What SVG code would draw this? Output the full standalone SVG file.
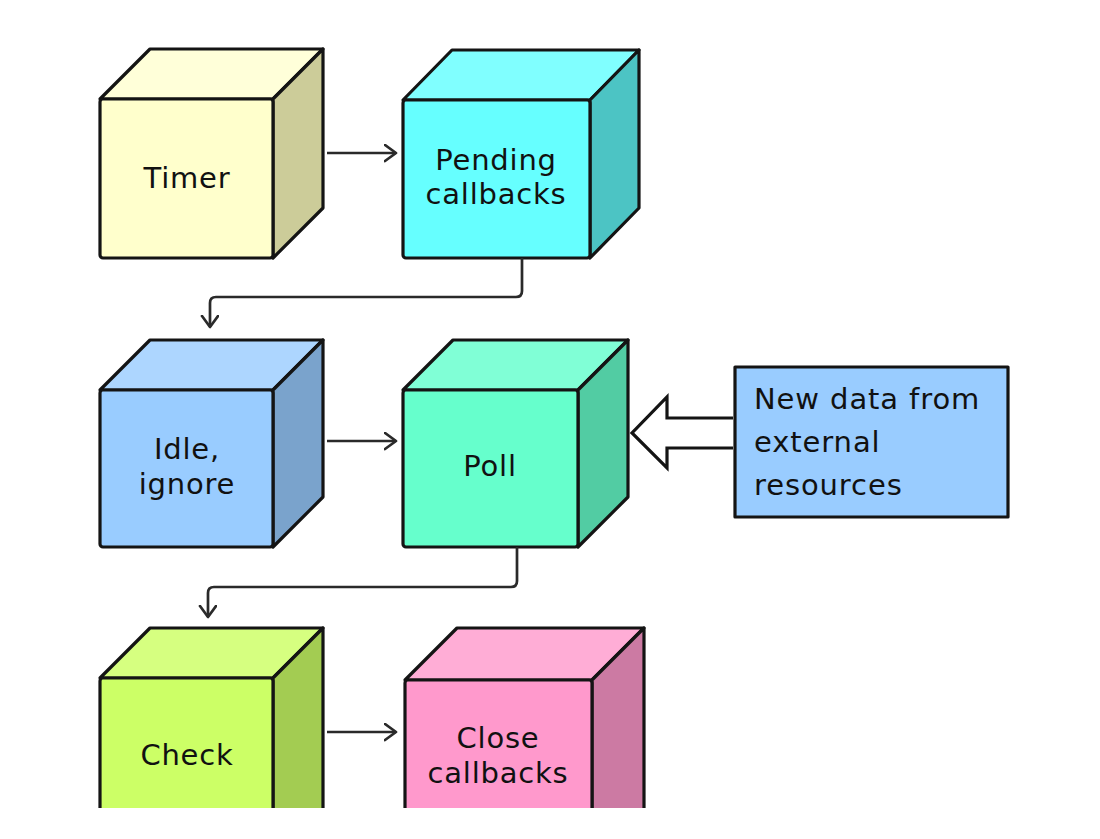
<svg xmlns="http://www.w3.org/2000/svg" width="1100" height="839" viewBox="0 0 1100 839">
<defs>
<style>
.e{stroke:#141414;stroke-width:3.2;stroke-linejoin:round}
.t{font-family:"DejaVu Sans","Liberation Sans",sans-serif;font-size:29px;fill:#111;text-anchor:middle;letter-spacing:0.8px}
.tl{font-family:"DejaVu Sans","Liberation Sans",sans-serif;font-size:29px;fill:#111;letter-spacing:0.9px}
.c{fill:none;stroke:#2a2a2a;stroke-width:2.7;stroke-linejoin:round}
</style>
<marker id="ah" markerUnits="userSpaceOnUse" markerWidth="16" markerHeight="20" refX="12" refY="9" orient="auto">
<path d="M1,1 L12,9 L1,17" fill="none" stroke="#2a2a2a" stroke-width="2.7" stroke-linecap="round" stroke-linejoin="round"/>
</marker>
<clipPath id="clip"><rect x="0" y="0" width="1100" height="808"/></clipPath>
</defs>
<rect width="1100" height="839" fill="#fff"/>

<g id="timer">
<path class="e" fill="#FFFFD9" d="M100,99 L150,49 L323,49 L273,99 Z"/>
<path class="e" fill="#CCCC99" d="M273,99 L323,49 L323,208 L273,258 Z"/>
<rect class="e" fill="#FFFFCC" x="100" y="99" width="173" height="159" rx="3"/>
<text class="t" x="187" y="188">Timer</text>
</g>

<g id="pending">
<path class="e" fill="#80FFFF" d="M403,100 L452,50 L639,50 L590,100 Z"/>
<path class="e" fill="#4CC4C4" d="M590,100 L639,50 L639,208 L590,258 Z"/>
<rect class="e" fill="#66FFFF" x="403" y="100" width="187" height="158" rx="3"/>
<text class="t" x="496" y="170">Pending</text>
<text class="t" x="496" y="204">callbacks</text>
</g>

<g id="idle">
<path class="e" fill="#ADD6FF" d="M100,390 L150,340 L323,340 L273,390 Z"/>
<path class="e" fill="#7AA3CC" d="M273,390 L323,340 L323,497 L273,547 Z"/>
<rect class="e" fill="#99CCFF" x="100" y="390" width="173" height="157" rx="3"/>
<text class="t" x="187" y="459">Idle,</text>
<text class="t" x="187" y="494">ignore</text>
</g>

<g id="poll">
<path class="e" fill="#80FFD6" d="M403,390 L453,340 L628,340 L578,390 Z"/>
<path class="e" fill="#52CCA3" d="M578,390 L628,340 L628,497 L578,547 Z"/>
<rect class="e" fill="#66FFCC" x="403" y="390" width="175" height="157" rx="3"/>
<text class="t" x="490" y="476">Poll</text>
</g>

<g id="newdata">
<rect class="e" fill="#99CCFF" x="735" y="367" width="273" height="150"/>
<text class="tl" x="754" y="409">New data from</text>
<text class="tl" x="754" y="452">external</text>
<text class="tl" x="754" y="495">resources</text>
</g>

<g id="check" clip-path="url(#clip)">
<path class="e" fill="#D6FF80" d="M100,678 L150,628 L323,628 L273,678 Z"/>
<path class="e" fill="#A3CC52" d="M273,678 L323,628 L323,810 L273,860 Z"/>
<rect class="e" fill="#CCFF66" x="100" y="678" width="173" height="182" rx="3"/>
<text class="t" x="187" y="765">Check</text>
</g>

<g id="close" clip-path="url(#clip)">
<path class="e" fill="#FFADD6" d="M405,680 L457,628 L644,628 L592,680 Z"/>
<path class="e" fill="#CC7AA3" d="M592,680 L644,628 L644,810 L592,862 Z"/>
<rect class="e" fill="#FF99CC" x="405" y="680" width="187" height="182" rx="3"/>
<text class="t" x="498" y="748">Close</text>
<text class="t" x="498" y="783">callbacks</text>
</g>

<g id="connectors">
<path class="c" d="M327,153 L396,153" marker-end="url(#ah)"/>
<path class="c" d="M522,258 L522,291 Q522,297 516,297 L216,297 Q210,297 210,303 L210,327" marker-end="url(#ah)"/>
<path class="c" d="M327,441 L396,441" marker-end="url(#ah)"/>
<path class="c" d="M517,547 L517,581 Q517,587 511,587 L214,587 Q208,587 208,593 L208,617" marker-end="url(#ah)"/>
<path class="c" d="M327,732 L396,732" marker-end="url(#ah)"/>
<path fill="#fff" stroke="#141414" stroke-width="3.2" stroke-linejoin="miter" d="M733,418 L667,418 L667,397 L632,433 L667,468 L667,448 L733,448"/>
</g>
</svg>
